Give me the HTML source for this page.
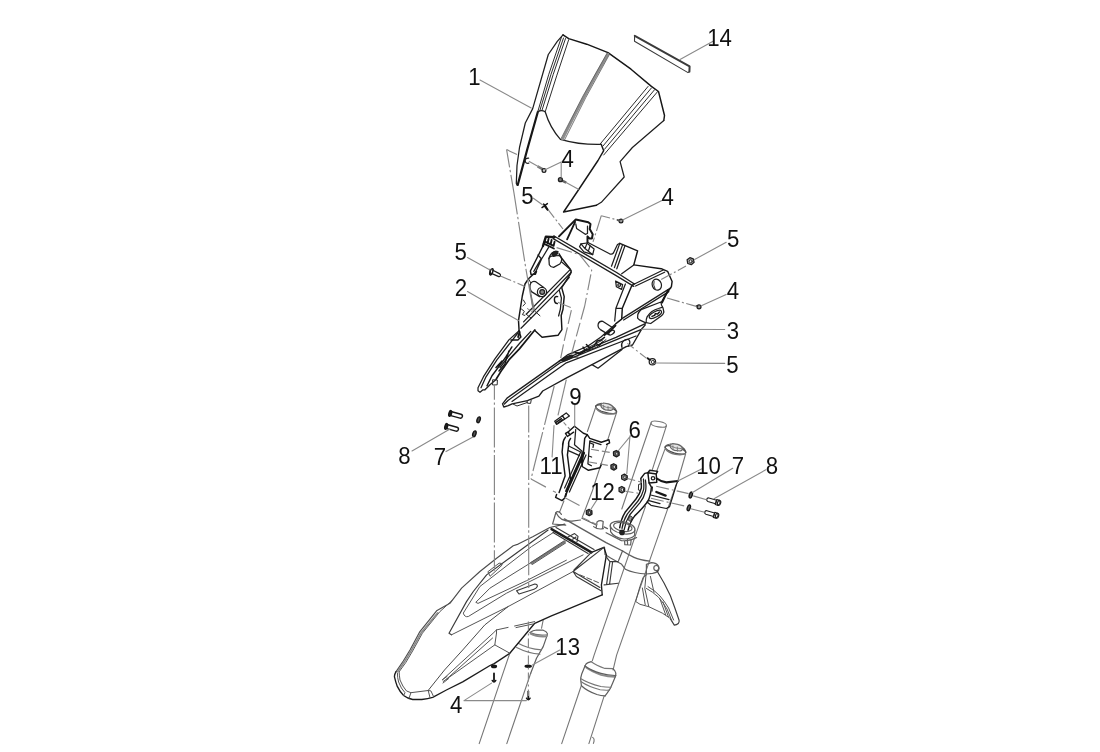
<!DOCTYPE html>
<html lang="en">
<head>
<meta charset="utf-8">
<title>Front fairing - exploded parts diagram</title>
<style>
html,body{margin:0;padding:0;background:#fff;}
body{width:1100px;height:752px;overflow:hidden;}
svg{display:block;will-change:transform;}
svg *{fill:none;stroke-linecap:round;stroke-linejoin:round;}
.o{stroke:#161616;stroke-width:1.45;}
.m{stroke:#1e1e1e;stroke-width:1.25;}
.t{stroke:#2c2c2c;stroke-width:1;}
.u{stroke:#767676;stroke-width:1.1;}
.c{stroke:#5e5e5e;stroke-width:1.2;}
#fender .t{stroke:#555;}
#fender .m{stroke:#3a3a3a;stroke-width:1.15;}
#fender .o{stroke:#1c1c1c;stroke-width:1.35;}
.g{stroke:#777;stroke-width:.9;}
.l{stroke:#8a8a8a;stroke-width:1.1;}
.d{stroke:#868686;stroke-width:1.15;stroke-dasharray:40 2.6 2.4 2.6;stroke-linecap:butt;}
.w{fill:#fff;}
.k{fill:#222;}
.gy{fill:#888;}
svg text{fill:#111;font-family:"Liberation Sans",Arial,sans-serif;font-size:22px;text-anchor:middle;stroke:none;}
</style>
</head>
<body>
<svg width="1100" height="752" viewBox="0 0 1100 752">
<rect class="w" x="0" y="0" width="1100" height="752" style="fill:#fff;stroke:none"/>
<!-- 10_windshield -->
<g id="windshield">
<!-- strip 14 -->
<path class="m" style="stroke:#3a3a3a;stroke-width:1.1" d="M634.6 36 L634.5 41.2 L688 72.6 L689.4 71.8"/>
<path class="m" style="stroke:#3a3a3a;stroke-width:2" d="M634.8 35.8 L689.6 66.4 L689.4 71.6"/>
<!-- outline -->
<path class="o" d="M563 34.8 L568.7 38.6 L586.7 44.2 L608 52.6 L631 69.2 L651.4 86.4 L658.5 91.5 L664.5 115.5 L663.8 120.5"/>
<path class="m" d="M663.8 120.5 L632.4 147.5 L620.1 161.6 L624.2 177 L601.3 202.3 L596.4 205.3"/>
<path class="o" d="M596.4 205.3 L563.6 212 L578.4 190 L598 160.5 L603.7 150.7 L601.3 144.4"/>
<path class="m" d="M601.3 144.4 Q580 145 560.4 139.3 Q550 128 545.2 111.8 Q541.4 109.4 537.8 111.8"/>
<path class="m" d="M563 34.8 L557.3 41.4 L548.3 54.5 L532.7 108.6 L525.3 123 L519.5 147.5 L517 165.5 L516.3 183.5 L517.4 185.3"/>
<path class="o" style="stroke-width:2.2" d="M537.8 112 Q527.4 148 517.7 185"/>
<!-- left ribs -->
<path class="t" d="M561.4 37.3 Q548 74 537.8 111.6 M563.5 38 Q550.4 74 539.7 111 M565.5 38.6 Q552.8 74 541.9 110.6 M568.7 39.7 Q556.4 76 545.2 111.8"/>
<!-- center rib -->
<path class="g" style="stroke:#8c8c8c;stroke-width:2.6" d="M608 54 Q583 97 562.5 139.3"/>
<path class="t" style="stroke:#555;stroke-width:.8" d="M606.9 53.4 Q582 96 561 138.7 M609.4 54.5 Q584.5 98 564.4 140.2"/>
<!-- right ribs -->
<path class="t" d="M648.1 86.4 L600.1 144.1 M651.4 88 L603.2 145.8 M654.6 89.7 L604.5 149.3 M657.9 91.3 L603.7 155"/>
</g>
<!-- 21_part2 -->
<g id="part2">
<!-- top flange -->
<path class="o" style="stroke-width:2.4" d="M543 246 L545.9 236.6 L554.6 237.2"/>
<path class="o" style="stroke-width:1.9" d="M544.6 241.4 L553.6 245.8 L554.6 241.6 M548.6 238.6 L547.6 243.2 M551.6 240 L550.6 244.6"/>
<path class="o" style="stroke-width:1.8" d="M543.7 243.6 L553.9 248.5"/>
<path class="m k" d="M551.6 253.4 Q554.6 250 558 251.6 Q557.6 255.6 553.4 256.4 Z"/>
<!-- strut -->
<path class="o" d="M543 246 L538 256 L530.4 271 L531 274.4 L535.4 274.2 L536.4 271.4"/>
<path class="m" d="M548.6 247.4 L541.6 259 L535.4 272.6 M541.3 258.3 L533.8 271.4 M538 255 L541.6 259"/>
<!-- pocket -->
<path class="m" d="M548.9 258.6 Q549.4 256.6 551.5 256.2 L559.1 255.5 Q561.9 257 561.7 259.6 Q561.4 262.4 559.8 264 L553.6 267.4 Q550.6 267.2 549.3 264.7 Z"/>
<path class="m" d="M553 252.6 Q549.4 255 548.9 258.6"/>
<!-- body right edge -->
<path class="o" d="M559.1 253.8 L561.7 258.3 L569.3 267.9 L571.2 271 L570.6 273.6 L561.7 287.6 L564.2 296.6 L563 309.3 L561.2 315.5 L561.9 329.6 L558 335.3 L542.1 337.2 L535.1 330.8"/>
<path class="m" d="M561.7 262.1 L569.3 268.5 M559.3 290.4 L561.4 298 L560.4 309 L558.6 316"/>
<!-- body left edge -->
<path class="o" d="M536.4 271.4 L528.5 278.7 L525 284 L522.3 296 L518.5 320.6 L519.1 330.8"/>
<path class="t" d="M528.5 278.7 L530.6 282.6 M523.4 300 L525.4 303.4 L523 306 M521.4 309 L524.4 311.4 L522.4 314.6 L524.8 315.4"/>
<!-- band -->
<path class="m" d="M570.6 269.1 L526.2 314.2 M571.2 272.3 L523.6 321.9 M569.3 277.4 L559.3 289.6 L521 328.3"/>
<path class="t" d="M535 311.4 L540 315.8 M526.2 314.2 L531 318"/>
<!-- cylinder boss -->
<path class="m" d="M531.4 291.6 Q528.6 287 531 282.8 Q533 280.6 535.4 281.6 L543.8 287.4 M531.4 291.6 L539.6 296.6"/>
<circle class="m" cx="542" cy="292" r="4.6"/>
<circle class="m gy" cx="542.2" cy="292" r="2.4"/>
<!-- hole -->
<path class="o" d="M557.6 296.6 Q554.4 296 554.4 299.6 Q554.6 303.4 557.4 303.6"/>
<!-- lower tail -->
<path class="m" d="M519.1 330.8 L508.9 339.9 L494.9 358.9 L484 375.8 L478 387.8 L478 390.8 L480 392.3 L483 389.8 L485 389.8 L490 384.8 L496.4 379.3"/>
<path class="o" style="stroke-width:1.7" d="M534.8 330 L519.4 348.9 L508.9 359.9 L501.9 369.9 L496.4 378.8"/>
<path class="m" d="M530.8 331.4 L519.9 343 L507.9 357 L500 367.5 M517.9 333 L496.9 359.9 L486 376.8 L481 387.8"/>
<path class="o" d="M511.9 346.9 L505.9 356.9 L500.9 363.9 L492 375.8 L487 385.8 M508.9 351 L504.9 363.9 L499 371 M502 361 L496 367.6 M518.9 331 L520.9 336.9 L517.9 339.9 L510.9 339.9"/>
<path class="o" style="stroke-width:2" d="M519.6 332 L518.2 337"/>
<path class="t" d="M493 379.8 L497.4 380 L497.2 384.8 L493 385 Z M490 384.8 L485 389.8"/>
</g>
<!-- 22_part3 -->
<g id="part3">
<!-- top tab -->
<path class="o" style="stroke-width:2" d="M559 236.4 L575.8 219.4 L588.3 222.2 L590.5 224 L589.7 229.1 L592.7 234.3 L591.9 238.6 L589.7 238.6 L587.5 236.4 L587.5 242.3"/>
<path class="o" style="stroke-width:1.8" d="M567.1 239.4 L575.1 221.8"/>
<path class="m" d="M575.8 224 L576.6 228.4 L585.3 234.3 L587.5 233.5 L587.5 226.2"/>
<!-- rim -->
<path class="m" style="stroke-width:1.4" d="M554 236 L616.6 272.5 L634.4 284"/>
<path class="m" d="M554 236 L553.2 238.6 L615.3 275.1 L633.8 286.4"/>
<!-- nut on rim -->
<path class="m w" d="M579.5 246.7 L581 243.8 L586.8 243 L594.1 248.9 L592.7 254.7 L583.9 251.8 Z"/>
<path class="m" d="M581 243.8 L585 248.6 L592.7 254.7 M585 248.6 L586.6 244.4 M588.6 250.4 L590 246.2"/>
<!-- behind rim to block -->
<path class="m" d="M587.5 242.3 L609.6 253.8 Q612 254.8 613.4 253 L617.5 244.5 L619.8 243.4"/>
<path class="o" d="M619.8 243.4 L637.6 250.8 L633.8 264.9 L661.2 268.7 L667.6 271.3 L672.1 281.5 L671.4 286.6 L664.4 296.8 L661.6 302"/>
<path class="m" d="M619.8 243.4 L611.5 266.2 M622.6 244.6 L614.4 267.6 M625 245.6 L616.8 268.8 M633.8 264.9 L621.7 273.8"/>
<path class="m" d="M634.4 284 L663.2 270 M635.6 286 L664.6 272.2"/>
<!-- vertical wall -->
<path class="o" d="M633.8 283.6 L631.3 286.8 L622.3 308.3 L621.7 319.1 L615.9 323.6"/>
<path class="m" d="M625.4 284 L615.9 308.3 L614.7 321 M622.3 308.3 L616.2 308.3"/>
<!-- small bracket -->
<path class="m" d="M615.6 281 L622.6 284.6 L621.6 289.4 L616.4 286.8 Z"/>
<circle class="m" cx="619.2" cy="285" r="1.4"/>
<!-- hole -->
<ellipse class="m" cx="656.8" cy="284.7" rx="4.6" ry="5.6" transform="rotate(-20 656.8 284.7)"/>
<path class="t" d="M654 281.5 Q652.8 285 655 288.6"/>
<!-- band -->
<path class="m" d="M622.3 318.4 L670.8 287.9 M623.6 320 L668.8 291.6"/>
<!-- lug -->
<path class="m" d="M641.1 309.7 L660.9 302 L661.5 305 Q663.6 308 663.9 312.1 Q663 315 660.9 316.3 L650.7 323.5 L646 322.6 M641.1 309.7 Q638.4 312 637.8 314.5 L637.6 318.1 L639.4 319.9 L645.3 322.6"/>
<path class="m" d="M646.2 322.4 Q646 319 647.1 316.9 Q649 313.6 651.9 311.5 Q655 309.4 658.5 308.5 L662.6 307.2"/>
<ellipse class="m" cx="655.4" cy="314.4" rx="6.8" ry="2.7" transform="rotate(-28 655.4 314.4)"/>
<path class="o" d="M652 316.4 L654.6 315.4 L655.4 313.6 L657.6 314 L659.4 312"/>
<path class="o" style="stroke-width:1.8" d="M668.1 290 L662.1 302.6"/>
<!-- peg -->
<path class="m" d="M612.4 327.6 L603 321.4 Q599.4 320.6 598.2 324 Q597.4 327.6 600.4 329.6 L608.6 334.6"/>
<ellipse class="m" cx="611.6" cy="332.6" rx="3.2" ry="1.8" transform="rotate(-35 611.6 332.6)"/>
<!-- blade -->
<path class="m" style="stroke-width:1.35" d="M645.3 323.6 L616 337.4 L588 349 L570 356.8 L559.3 361.1 L507 398.1 L502.5 403.8 L503.8 407 L508.3 405.7 L512.1 403.8 L527.4 400.6 L538.9 396.2 L542.7 391 L565.7 378.3 L592 364.6 L621 349.4 L626.2 346.6 L632.5 345 L641.5 329.3 L645.3 324.9"/>
<path class="m" d="M592 364.6 L598 368.2 L622 349.6"/>
<path class="m" d="M641.5 329.3 L560.5 362.6 L508.3 400.2 M636 336 L566.4 362.8 L512 401.4 M508.3 400.2 L504.4 404"/>
<path class="m" d="M559.3 361.1 L568 354.6 L588 346 L601 337 L615.9 323.6"/>
<path class="t" d="M572 353 L580 352.4 L590 346.6 L596 343.6 L603 339.8 M578 355 L586 350.4 L596 347.6 L606 339.6 M566 358.6 Q572 356.4 578 357"/>
<ellipse class="m k" cx="567.4" cy="358" rx="5.8" ry="1.5" transform="rotate(-24 567.4 358)"/>
<path class="o" d="M586.4 344.5 L590 348.2 L593.6 346.4 L597.3 341 L600.9 340 L604.5 337.3 M575.5 352.7 L580 353.6 L586.4 350 L590 350 M583 347 L585 350.4 M596 343.6 L599 345.4 L602.6 342"/>
<path class="o" style="stroke-width:1.8" d="M604.5 335 L611 330 L615.5 325.5"/>
<!-- hole in blade -->
<path class="m" d="M628.4 346 Q631 342.4 629 339.8 Q626 338.4 623 341.4 Q620.6 344.4 622 347.4"/>
<!-- tab at tip -->
<path class="t" d="M527 400.8 L527.4 403.2 L530.6 403.4 L531.2 400 M513 404 L517 406 L527 402.6"/>
</g>
<!-- 30_forks -->
<g id="forks">
<!-- left fork tube -->
<g id="capL">
<ellipse class="m" style="stroke:#444" cx="606.1" cy="409.3" rx="10.9" ry="3.3" transform="rotate(16 606.1 409.3)"/>
<path class="m" style="stroke:#777;stroke-width:1.6" d="M596.4 408.4 Q599.4 412.4 606 413.6 Q612.6 414.6 616 413"/>
<path class="m" style="stroke:#555" d="M595.7 406.6 Q597 403.8 601.6 403.4 M611.8 406 Q615.6 408 616.6 411.6"/>
<path class="m" style="fill:#e4e4e4;stroke:#666" d="M600.8 405.4 Q601 403.4 603.4 403 L608.4 403.8 Q612.4 405.2 613.4 407.8 Q613 410 610.8 410.4 L605.4 409.8 Q601.4 408.6 600.8 405.4 Z"/>
<path class="g" d="M603.6 405.2 L603.8 409.4 M608 406.4 L608.2 410.6 M601.4 405.4 Q606 408 613 408.2"/>
</g>
<path class="u" d="M595.4 408 L587.4 431.5 M563.9 501 L559.7 511.8 M616.4 413 L607.8 439.7 M607.5 444.4 L592.3 491 L582.4 517"/>
<!-- clamp 9 -->
<path class="o" d="M574.5 426.3 L583.4 433.3 L587.2 434.6 L589.8 438.4 L601.3 442.2 L608.9 439.7 L609.6 442.9 L606.6 444.4"/>
<path class="o" d="M574.5 426.3 L568.1 432 L565.5 433.3 L567.4 436.5 L573.6 432.2 M568.1 432 L570 435"/>
<path class="o" d="M565.5 437.1 Q562.4 441 562.7 446 L562.1 452 L565.1 475.9 L559.1 492.6 M570.6 438.4 Q568 442 568.7 444.8 L567.4 455 L570.5 479.5 L565.7 496.2"/>
<path class="m" d="M575.7 429.5 L574.5 444.8 L582.1 451.2 L581.4 463 M568.7 446 L580.7 452 M568.4 450.6 L579.6 455.6"/>
<path class="o" style="stroke-width:3" d="M583.6 453 L566.6 491"/>
<path class="m" d="M580.4 452.6 L564.6 488 M586 455 L569.4 492"/>
<path class="o" d="M587.2 434.6 L584.7 438.4 L582.1 466.5 L588.5 470.3 L600 467.7 L601.4 464.4"/>
<path class="m" d="M589.8 440.9 L587.9 463.9 L591.4 465.8 M590.4 443 L593.6 444.4 L593 447.4 M588.8 456 L591.6 457 M589.8 440.9 L601 444.6"/>
<path class="o" d="M556.6 494.4 L555.6 497.4 L562 500.6 L564.4 498.4 L566 493.6"/>
<!-- center stem -->
<ellipse class="u" cx="658.7" cy="424.2" rx="7.8" ry="2.7" transform="rotate(10 658.7 424.2)"/>
<path class="u" d="M651 423 L621.8 509 M666.4 425.8 L652.4 469.4"/>
<!-- right fork tube -->
<g id="capR" transform="translate(69.3 40.6)">
<ellipse class="m" style="stroke:#444" cx="606.1" cy="409.3" rx="10.7" ry="3.3" transform="rotate(16 606.1 409.3)"/>
<path class="m" style="stroke:#777;stroke-width:1.6" d="M596.4 408.4 Q599.4 412.4 606 413.6 Q612.6 414.6 616 413"/>
<path class="m" style="stroke:#555" d="M595.7 406.6 Q597 403.8 601.6 403.4 M611.8 406 Q615.6 408 616.6 411.6"/>
<path class="m" style="fill:#e4e4e4;stroke:#666" d="M600.8 405.4 Q601 403.4 603.4 403 L608.4 403.8 Q612.4 405.2 613.4 407.8 Q613 410 610.8 410.4 L605.4 409.8 Q601.4 408.6 600.8 405.4 Z"/>
<path class="g" d="M603.6 405.2 L603.8 409.4 M608 406.4 L608.2 410.6 M601.4 405.4 Q606 408 613 408.2"/>
</g>
<path class="u" d="M665.1 448.6 L656.4 472 M685.6 454 L677.8 481 M676 485 L667.6 509.1 L616.6 655.1 L613.1 669.9 M645.5 506.3 L594.1 655.1 L592.3 660.8"/>
<!-- clamp 10 -->
<path class="o" d="M647.9 472.8 L656.2 474 L656.8 482.3 L649.1 483 Z M647.9 472.8 L649.8 470.2 L657.6 471.4 L656.2 474"/>
<circle class="m" cx="653" cy="478.2" r="1.7"/>
<path class="o" style="stroke-width:2.2" d="M656.8 478.5 Q661 481.8 666.4 482.3 L677.8 481"/>
<path class="m" d="M677.8 481 L676.4 484.6 L669.6 506.6 L666.4 508.5 L651 505.3 L647 502"/>
<path class="o" d="M647.9 472.8 L644.7 473.4 L640.8 478.5 Q641.6 484 641.3 488 Q640 494 636 499 L625.1 512.3 Q621 519 619.7 527.8 M649.1 483 L651.4 487.2 Q650.6 496 647.8 501.5 Q642 509 634.7 515.9 Q630 522 628.1 530.2"/>
<path class="m" d="M643.4 479 Q644.2 485 643.6 489.6 Q642 496 638 501 L627.4 513.8 Q623.4 520 622 528.4 M645.4 480 Q646.4 486 645.6 491 Q644 497.6 640 502.6 L629.6 515 Q625.6 521.4 624.2 529.6"/>
<path class="t" style="fill:#999" d="M630.4 516 L632.6 517.4 L630.4 521.6 L628.4 520 Z"/>
<path class="o" style="stroke-width:2.4" d="M656.4 492 L665.6 495.6"/>
<path class="m" d="M652.4 487 L652 491 M650.8 495 L669 499.6 M648 500.4 L660 503.6"/>
<path class="t" d="M640.4 484 L638.6 484.4 L638.4 490 L640.6 490.6"/>
<!-- stem base -->
<ellipse class="c" cx="622.6" cy="527.6" rx="12.6" ry="6" transform="rotate(12 622.6 527.6)"/>
<path class="c" d="M610.4 525.4 L610.6 531.6 Q614 537.6 624 539 Q631.6 539 634.6 535.4 L634.8 530"/>
<ellipse class="c" cx="622.8" cy="527" rx="9.4" ry="4.2" transform="rotate(12 622.8 527)"/>
<circle class="m k" cx="622" cy="532.4" r="2.2"/>
<!-- lower triple clamp -->
<path class="c" d="M559.2 512 Q557 511 555.9 512.5 L552.6 524 L565.7 525.1"/>
<path class="c" d="M555.9 512.5 Q558 517 562 519.4 Q566 521.4 572 521.2 L580.5 520 M559.2 512 Q560.6 513 561.4 514.4"/>
<path class="c" style="stroke-width:1.4" d="M564.4 518.9 L596 536.9 L606.1 542.6 L622.6 551 Q627.9 554.4 634 557.4 Q640 560.2 649.7 561.1"/>
<path class="c" d="M622.6 550.8 L618.6 560.6"/>
<path class="c" d="M581.9 518.2 L595.8 524.8 M603.9 526.9 L607.5 528.6"/>
<path class="c" d="M604.5 547 L605 554.5 L610.6 557.9 L621.3 563.9 Q623.6 567 625.3 569.2 Q634 573.4 646.4 574"/>
<path class="c" d="M606.1 532.7 L621.4 540.6 Q630 541.4 636.6 537.6 M624.6 541.4 L624.8 544.6 L630.6 545 L631.2 539.6 M627.4 539.4 L627.6 544.6"/>
<path class="c" d="M646.4 564.4 L646.4 574 L652.6 573.4 Q658.8 572.4 659 568.4 Q658.6 563.8 653.6 562.8 L651.4 562.6 Z"/>
<circle class="c" cx="656.3" cy="568" r="2.5"/>
<path class="c" d="M596.2 527.6 L597 522 Q600 519.6 603.2 521.6 L602.6 528 M593.6 526.6 Q598 530 603.4 528.6"/>
<!-- seal + lower leg (right) -->
<path class="c" d="M585 665.9 Q586 663.4 588.1 662.6 L591.3 661.6 M612.6 668.6 Q615.4 670.6 615.8 673 L615.7 675.6"/>
<path class="u" d="M591.3 661.8 Q596 665.6 604.9 668.4 L612.6 668.6"/>
<path class="g" style="stroke:#8a8a8a;stroke-width:1.8" d="M586.2 667.6 Q592 671.8 601 674.8 Q608 676.8 615 676.8"/>
<path class="c" d="M585 665.9 Q591 670.4 600.9 673.4 Q608 675.6 615.7 675.5"/>
<path class="c" d="M585 666 L581.8 673.7 L580.6 678.5 L581.4 685.7 M615.7 675.7 L612.9 682.5 L610.5 688.1 L607.3 692.9 L604.9 696.1"/>
<path class="u" d="M580.6 678.5 Q588 683.4 600.9 686.5 Q606 687.4 610.9 687.3 M581.2 681.7 Q588 686.4 600.1 689.7 Q605 690.4 609.3 690.1"/>
<path class="c" d="M581.4 685.7 Q587 691 596.9 694.5 Q601 695.6 604.9 695.9"/>
<path class="u" d="M581 686.5 L561.7 743.6 M604.1 696.1 L588.9 743.6"/>
<path class="u" d="M592.6 737.4 Q595.2 739 593.4 743.4"/>
<!-- left lower leg + collar -->
<path class="u" d="M543.2 620 L541.5 628.3 M530.7 673.2 L506.8 743.6 M509.8 653.2 L479.2 743.6"/>
<path class="c" d="M530 632.4 Q533 630.4 536.5 630 L543.2 630.2 Q546.6 631.4 547.4 633.6 M547.4 634.6 L543.2 646.6 L536.5 658.3 L530.7 673.2"/>
<path class="g" style="stroke:#8a8a8a;stroke-width:1.7" d="M530.4 633.8 Q537 637.2 546.6 636.4"/>
<path class="u" d="M530 632.6 Q537 636 547.4 634.8 M518.2 643.3 Q528.2 649.1 541.5 649.9 M516.6 647.4 Q528.2 653.3 539.9 654.1"/>
</g>
<!-- 40_fender -->
<g id="fender">
<!-- outer left edge and tip -->
<path class="m" style="stroke-width:1.15;stroke:#4c4c4c" d="M564.8 524.1 L549.8 527.5 L533.2 536.6 L518.2 544.1 L513.2 545.8 L496.6 558.2 L479.9 571.5 L461.6 588.2 L449.9 603.3 L436.6 610.8 L419.9 631.6 L410 650 L403.3 661 L395.9 671.8"/>
<path class="o" d="M395.9 671.8 Q394 675 394.6 677.4 Q395.6 682 397.3 686.4 Q400 692 403.6 695.5 Q407.6 698.6 412.7 699.5 L421.8 699.5 Q428 698.8 432.7 697.3 L446.4 690 L462.7 681.8 L490 665.5 L494.2 663.6 L509.8 653.2 L534.7 623.3 L551.4 615.8 L568 609.1 L602.2 594.8"/>
<path class="t" d="M399.1 671.8 Q399.4 676 400 680 Q402.6 686.6 406.4 690.9 L410.9 692.7 L428.2 690.5 L430.9 690.9 L433.6 696.6 M397.4 673 Q397.4 678 398.6 682 Q401 688.6 405 692.7 L403.6 695.5 M428.2 690.5 L430 697.6 M410.9 692.7 L409 698.4"/>
<path class="t" d="M452 600.6 L439.9 611.6 L422.4 633.2 L412.6 651 L405.8 662.5 L399.1 671.8"/>
<path class="g" style="stroke:#8a8a8a;stroke-width:1.7" d="M437.6 613 L421 633 L411.2 650.6 L404.6 661.6 L397.8 671.4"/>
<!-- V channel -->
<path class="m" d="M548.1 530 L486.6 574.9 L473.3 591.5 L466.5 601.6 L449 633.2 L451.5 634.8"/>
<path class="t" d="M451.5 634.8 L508.1 606.6 L573.1 571.5"/>
<path class="t" d="M554.8 531.6 L531.5 546.6 L479.9 586.5 L463.3 613.1 Q464.6 617.6 468.3 616.5 L506.5 593.2 L583.1 554.9"/>
<path class="t" d="M564.8 541.6 L489.9 588.2 L475.8 602.3 L478 603.4 L526.5 580.7 L566.4 560.2"/>
<path class="g" style="stroke-width:2" d="M531.5 563.4 L564.8 541.8"/>
<path class="t" d="M530.6 562.6 L564.2 540.8 M532.4 564.4 L565.6 543"/>
<!-- slots -->
<path class="t" d="M488.2 571.5 L499.1 563.2 Q502 562.6 502.2 565 L490.4 576 Z"/>
<path class="m" d="M516.5 590.7 L534.8 584 Q537.6 584 537.3 586.5 Q536.4 588.4 534 589.2 L519 594 Z"/>
<!-- top back -->
<path class="o" style="stroke-width:2.4" d="M551.5 529.1 L591.4 552.4"/>
<path class="m" d="M556 527.6 L594 549.6 M553 532.6 L588 553.6 M568 537 L574.6 533.6 L578 536.4 L577 541.6 M572.6 539.2 L576 537"/>
<!-- right front face -->
<path class="o" d="M591.4 552.4 L603.9 547.4 L606.4 554.9 L601.4 584.9 L602.2 594.8"/>
<path class="m" d="M603.9 547.4 L573.1 571.5 L599.9 587.4 M573.1 571.5 L576.4 576.5 L600.6 590.6 M591.4 552.4 L574 570"/>
<path class="t" style="stroke-dasharray:5 2.5" d="M580 574.9 L599.9 583.2"/>
<path class="m" d="M606 556.6 L609.9 561.6 L618.2 561.6 M604.1 584.9 L618.2 583.2 M609.9 561.6 L606.6 584.4 M612.6 562 L609.6 584"/>
<!-- centre fold -->
<path class="t" style="stroke:#4a4a4a" d="M508.1 606.6 L484.8 624.9 L462.7 650 L444.5 670 L428.2 690.4"/>
<!-- under panel -->
<path class="t" d="M508.1 627.4 L496.5 629.9 L493.1 633.2 L442.4 679.8 M514.6 626 L534.7 621.6 M496.5 633.2 L494.8 644.9 L509.8 653.2 M494.8 644.9 L443.2 681.5 M496.5 629.9 L496.5 633.2 M516 627.6 L533 624"/>
<path class="t" d="M492.6 638 L446 679.6 M442.4 679.8 L447 676.4 M443 683 L448.6 678.6"/>
<!-- rear flap -->
<path class="m" d="M657.2 571.2 Q664 582 670.3 595.5 Q675 608 679.1 620.3 Q679.4 622.6 678.3 623.5 Q676.6 625 674.3 625.1 L670.3 618.7"/>
<path class="t" d="M646.4 588.4 Q653 592 658.4 597.1 Q663.4 603 667.1 609.1 L671.9 621.1 M648 586.6 Q655 590.6 660 596 Q665 602 668.6 608 L673.6 620 M646.5 575 L643.2 577.2 L639.9 586.6 L635.7 601.5 L640 604.3 L648.8 606.7 L662.3 613.1 L669.5 617.9"/>
<path class="t" d="M646 574.8 L644.8 588.4 L648.8 606.7 M650.4 576.4 L654 592.3 M642.4 588 L645.2 604.6 M660 599 L665.6 614.6 M663 602 L668.4 616.8"/>
</g>
<!-- 50_hw -->
<g id="hardware">
<!-- bolts 8 left -->
<g transform="translate(450.2 413.4) rotate(15)"><ellipse class="o k" cx="0" cy="0" rx="1.3" ry="2.9"/><path class="o" d="M1.2 -2 L10.6 -2 Q12.6 -1.9 12.6 0 Q12.6 1.9 10.6 2 L1.2 2"/></g>
<g transform="translate(446.2 426.4) rotate(15)"><ellipse class="o k" cx="0" cy="0" rx="1.3" ry="2.9"/><path class="o" d="M1.2 -2 L10.6 -2 Q12.6 -1.9 12.6 0 Q12.6 1.9 10.6 2 L1.2 2"/></g>
<!-- washers 7 left -->
<ellipse class="o k" style="fill:#555" cx="478.6" cy="419.8" rx="1.5" ry="3" transform="rotate(18 478.6 419.8)"/>
<ellipse class="o k" style="fill:#555" cx="474.4" cy="433.8" rx="1.5" ry="3" transform="rotate(18 474.4 433.8)"/>
<!-- bolts 8 right -->
<g transform="translate(706.8 499.2) rotate(17) scale(.93 .88)"><path class="m" d="M10.4 -2.1 L1.8 -2.1 Q0 -2 0 0 Q0 2 1.8 2.1 L10.4 2.1 Z"/><path class="m" d="M10.4 -3 L13.6 -3 L15 0 L13.6 3 L10.4 3 Z"/><ellipse class="m" cx="13.8" cy="0" rx="1.7" ry="2.9"/></g>
<g transform="translate(704.8 512) rotate(17) scale(.93 .88)"><path class="m" d="M10.4 -2.1 L1.8 -2.1 Q0 -2 0 0 Q0 2 1.8 2.1 L10.4 2.1 Z"/><path class="m" d="M10.4 -3 L13.6 -3 L15 0 L13.6 3 L10.4 3 Z"/><ellipse class="m" cx="13.8" cy="0" rx="1.7" ry="2.9"/></g>
<!-- washers 7 right -->
<ellipse class="o" style="fill:#666" cx="690.8" cy="495" rx="1.4" ry="3" transform="rotate(18 690.8 495)"/>
<ellipse class="o" style="fill:#666" cx="688.8" cy="507.8" rx="1.4" ry="3" transform="rotate(18 688.8 507.8)"/>
<!-- nuts 6 -->
<g transform="translate(616.3 453.7)"><path class="m" style="fill:#666" d="M-2.8 -1.8 L0 -3.2 L2.8 -1.6 L2.9 1.6 L0.2 3.2 L-2.7 1.7 Z"/><ellipse class="t" style="fill:#ddd" cx="0.6" cy="0" rx="1.3" ry="1.7"/></g>
<g transform="translate(613.7 466.9)"><path class="m" style="fill:#666" d="M-2.8 -1.8 L0 -3.2 L2.8 -1.6 L2.9 1.6 L0.2 3.2 L-2.7 1.7 Z"/><ellipse class="t" style="fill:#ddd" cx="0.6" cy="0" rx="1.3" ry="1.7"/></g>
<g transform="translate(624.4 477.3)"><path class="m" style="fill:#909090" d="M-2.8 -1.8 L0 -3.2 L2.8 -1.6 L2.9 1.6 L0.2 3.2 L-2.7 1.7 Z"/><ellipse class="t" style="fill:#eee" cx="0.6" cy="0" rx="1.3" ry="1.7"/></g>
<g transform="translate(621.8 489.7)"><path class="m" style="fill:#909090" d="M-2.8 -1.8 L0 -3.2 L2.8 -1.6 L2.9 1.6 L0.2 3.2 L-2.7 1.7 Z"/><ellipse class="t" style="fill:#eee" cx="0.6" cy="0" rx="1.3" ry="1.7"/></g>
<!-- nut 12 -->
<g transform="translate(589.1 512.5)"><path class="m" style="fill:#555" d="M-2.8 -1.8 L0 -3.2 L2.8 -1.6 L2.9 1.6 L0.2 3.2 L-2.7 1.7 Z"/><ellipse class="t" style="fill:#ccc" cx="0.6" cy="0" rx="1.2" ry="1.6"/></g>
<!-- nut 5 right -->
<g transform="translate(690.5 261.3)"><path class="m" style="fill:#aaa" d="M-3.4 -1.6 L-0.6 -3.6 L2.8 -2.4 L3.6 1 L0.8 3.4 L-2.8 2.2 Z"/><circle class="t" style="fill:#eee" cx="0.2" cy="0" r="1.5"/></g>
<!-- clip 11 -->
<path class="m" d="M554.7 421.2 L566.2 412.9 L569.4 416 L556.6 424.4 Z"/>
<path class="o" d="M555.6 422.6 L561.4 418.6 M558 423 L562.6 419.8 M562.4 415.8 L564.4 418.6"/>
<!-- small screws 4 near windshield -->
<path class="o" style="stroke-width:2.4;stroke:#777;stroke-linecap:butt" d="M537.6 166.4 L543 169.4"/><circle class="m" style="fill:#ccc" cx="544" cy="170.4" r="1.9"/>
<path class="o" style="stroke-width:2.4;stroke:#666;stroke-linecap:butt" d="M561.6 180.4 L566.2 182.6"/><circle class="m" style="fill:#777" cx="560.4" cy="179.7" r="2"/>
<path class="m" d="M528.6 158.2 Q525 158 525.2 161 Q525.6 163.8 528.8 163.2"/>
<!-- screw 5 upper -->
<path class="o" d="M542 207.6 L547.4 203.6 M543.6 204 Q546 207 547.6 209.8 M545.8 206.4 L547 208.6"/>
<path class="o" style="stroke-width:2" d="M544.6 205.8 L547.6 209.6"/>
<!-- screw 4 top right -->
<circle class="m" style="fill:#999" cx="621" cy="221" r="1.9"/><path class="o" style="stroke:#555;stroke-width:2" d="M617.6 220 L619.4 220.6"/>
<!-- screw 5 left -->
<ellipse class="o" cx="491.4" cy="271.8" rx="1.3" ry="3.3" transform="rotate(20 491.4 271.8)"/>
<path class="m" d="M492.4 270 L499.4 273.6 Q500.8 274.6 500.4 275.8 Q499.6 277 498.2 276.4 L491.4 273.4 M489.8 269.4 L490.6 274.6"/>
<!-- screw 4 right mid -->
<circle class="m" style="fill:#999" cx="699" cy="306.8" r="2"/><path class="m" d="M696.4 305.8 L697.6 306.2"/>
<!-- screw 5 right lower -->
<circle class="m" cx="652.4" cy="361.8" r="3.2"/><circle class="t" cx="652.8" cy="362" r="1.6"/>
<path class="o" style="stroke-width:2" d="M647.6 358.2 L650 360"/>
<!-- fender screws -->
<ellipse class="o k" cx="494" cy="666.4" rx="2.4" ry="1.1"/>
<path class="o" style="stroke-width:1.8" d="M494 673.4 L494 680.6"/><path class="o" d="M492.2 680.4 Q494 683.4 495.8 680.4"/>
<ellipse class="o k" cx="528.2" cy="666.2" rx="3" ry="1"/>
<path class="o" style="stroke-width:1.8" d="M528.3 691.6 L528.3 698.4"/><path class="o" d="M526.5 698.2 Q528.3 701.4 530.1 698.2"/>
</g>
<!-- 60_dash -->
<g id="dashlines">
<path class="d" style="stroke-dasharray:none" d="M506.6 149.6 L517 154.6"/>
<path class="d" style="stroke-dashoffset:22" d="M506.6 149.6 L514 193.2 L525.7 267.7 L533.3 311"/>
<path class="g" d="M529.7 284.7 L533.3 311 L531 294.6 L534.6 310 M527.4 308.6 L533.4 312.4"/>
<path class="d" style="stroke-dashoffset:25" d="M494.4 384.8 L494.4 570.7"/>
<path class="d" style="stroke-dashoffset:13" d="M528.7 405.5 L528.7 588"/>
<path class="d" style="stroke-dasharray:9 3 2 3" d="M528.4 621.6 L528.4 696"/>
<path class="d" style="stroke-dasharray:9 2.5 2 2.5" d="M601.3 215.7 L617 219.8"/>
<path class="d" style="stroke-dasharray:16 2.5 2 2.5" d="M601.3 215.7 L593 241.9"/>
<path class="d" style="stroke-dasharray:16 3 2 3" d="M556.6 247.6 L579.6 254.7 L591.7 270 L584.7 306"/>
<path class="d" style="stroke-dasharray:14 3.5" d="M584.7 306 L574.6 342.5 L571.4 354.5"/>
<path class="d" d="M554.2 386 L531 479"/>
<path class="d" style="stroke-dasharray:17 8" d="M531 479 L556 492.6 M564.6 497.4 L586.6 509.4"/>
<path class="d" style="stroke-dasharray:14 3.5" d="M557.8 302.3 L571.9 308 L564.4 340 L560.5 359"/>
<path class="d" d="M566.3 379.6 L558 415.3"/>
<path class="d" style="stroke-dasharray:4 2.5" d="M563.6 422.4 L570 429.5"/>
<path class="d" style="stroke-dasharray:11 2.5 2 2.5" d="M501 276.2 L524.7 286.4"/>
<path class="d" style="stroke-dasharray:10 2.5 2 2.5" d="M548.1 209.6 L563 229"/>
<path class="d" style="stroke-dasharray:12 2.5 2 2.5" d="M661.2 279.6 L686 266"/>
<path class="d" style="stroke-dasharray:13 2.5 2 2.5" d="M667 298 L696.3 306.4"/>
<path class="d" style="stroke-dasharray:8 3 2 3" d="M627.4 343.4 L647.8 359.3"/>
<path class="d" style="stroke-dasharray:8 3" d="M591 449.2 L613 453 M589.1 462 L610.4 465.8 M627.4 478.5 L642.1 482.3 M625.5 491.3 L638.3 493.2"/>
<path class="d" style="stroke-dasharray:13 3 2 3" d="M656.2 486.2 L688.6 493.6 M651 498.3 L686.4 506.4"/>
<path class="d" style="stroke-dasharray:none" d="M693.2 495.9 L706.6 499.8 M690.8 508.7 L704.6 512.2"/>
<path class="d" style="stroke-dasharray:8 3" d="M582.1 517.6 L597.4 524.7"/>
</g>
<!-- 70_leaders -->
<g id="leaders">
<path class="l" d="M480 80 L531.2 108"/>
<path class="l" d="M713.5 41 L680 59.4"/>
<path class="l" d="M561.2 161.9 L545.6 169.5 M561.2 161.9 L561.2 176.9 M566.1 182.6 L578.4 189.2 M529.3 161.4 L539.1 167.1"/>
<path class="l" d="M533.4 198.2 L542.4 204.7"/>
<path class="l" d="M661.9 200.5 L622.6 220"/>
<path class="l" d="M726.2 242.3 L694.6 259.5"/>
<path class="l" d="M726.2 294.6 L701.3 305.7"/>
<path class="l" d="M724.7 329.5 L641.5 329.3"/>
<path class="l" d="M724.7 363.4 L655.4 363"/>
<path class="l" d="M467.5 257.5 L490 270"/>
<path class="l" d="M467.5 291.6 L518.5 320.6"/>
<path class="l" d="M574.7 405.2 L574.7 426.3"/>
<path class="l" d="M554 425.6 L552.1 456.9"/>
<path class="l" d="M630.6 435.8 L618.5 450.5 M630 435.8 L626.8 473.5"/>
<path class="l" d="M412 451 L450 429"/>
<path class="l" d="M446 451.6 L473 437"/>
<path class="l" d="M701.5 468.9 L677.8 481"/>
<path class="l" d="M732.7 468.3 L692.5 492.5"/>
<path class="l" d="M765.8 469.8 L714 498.8"/>
<path class="l" d="M597.4 499.1 L590.4 510"/>
<path class="l" d="M559.8 650 L532.4 664.9"/>
<path class="l" d="M464 700.6 L491.5 683.1 M464 700.6 L526.4 700.6"/>
</g>
<!-- 90_labels -->
<g id="labels" transform="translate(0 0.1)">
<text transform="translate(474.4 85.0) scale(1.01 1.075)">1</text>
<text transform="translate(719.6 46.3) scale(1.01 1.075)">14</text>
<text transform="translate(567.7 166.8) scale(1.01 1.075)">4</text>
<text transform="translate(527.4 203.6) scale(1.01 1.075)">5</text>
<text transform="translate(667.7 204.8) scale(1.01 1.075)">4</text>
<text transform="translate(460.6 260.0) scale(1.01 1.075)">5</text>
<text transform="translate(733.1 246.7) scale(1.01 1.075)">5</text>
<text transform="translate(460.9 296.2) scale(1.01 1.075)">2</text>
<text transform="translate(732.9 299.1) scale(1.01 1.075)">4</text>
<text transform="translate(732.8 338.4) scale(1.01 1.075)">3</text>
<text transform="translate(732.5 372.6) scale(1.01 1.075)">5</text>
<text transform="translate(575.3 405.2) scale(1.01 1.075)">9</text>
<text transform="translate(634.6 437.5) scale(1.01 1.075)">6</text>
<text transform="translate(404.5 464.2) scale(1.01 1.075)">8</text>
<text transform="translate(440.0 465.0) scale(1.01 1.075)">7</text>
<text transform="translate(551.0 474.1) scale(1.01 1.075)">11</text>
<text transform="translate(708.6 473.8) scale(1.01 1.075)">10</text>
<text transform="translate(738.0 473.7) scale(1.01 1.075)">7</text>
<text transform="translate(771.8 474.3) scale(1.01 1.075)">8</text>
<text transform="translate(602.6 499.8) scale(1.01 1.075)">12</text>
<text transform="translate(567.7 654.5) scale(1.01 1.075)">13</text>
<text transform="translate(456.1 713.3) scale(1.01 1.075)">4</text>
</g>
</svg>
</body>
</html>
